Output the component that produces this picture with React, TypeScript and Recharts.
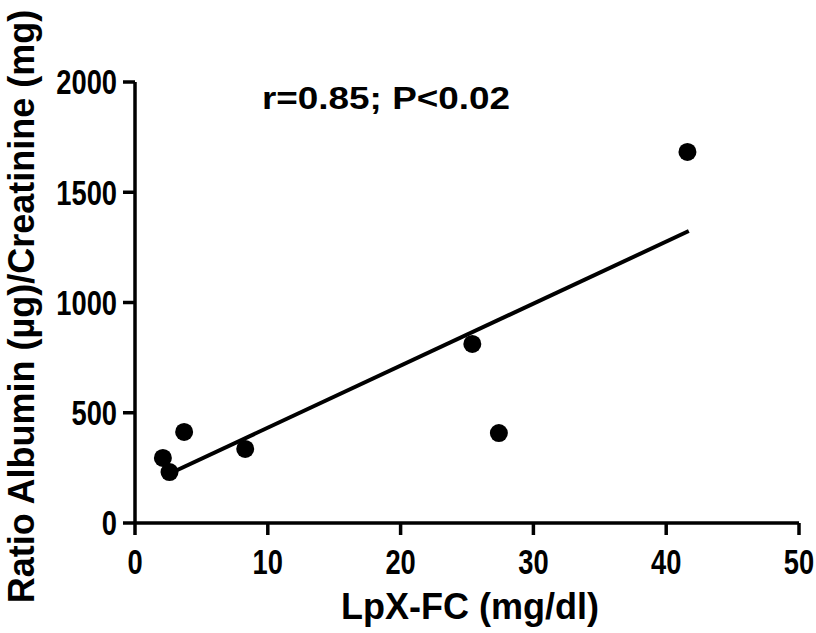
import { ScatterChart, Scatter, XAxis, YAxis, Label } from "recharts";

// LpX-FC vs albumin/creatinine ratio, one entry per patient
const lpxFc = [2.1, 2.6, 3.7, 8.3, 25.4, 27.4, 41.6];
const albuminRatio = [295, 231, 413, 336, 812, 408, 1683];

// regression line end points
const fitX = [2.1, 41.7];
const fitY = [210, 1324];

const xTicks = [0, 10, 20, 30, 40, 50];
const yTicks = [0, 500, 1000, 1500, 2000];

const xTitle = "LpX-FC (mg/dl)";
const yTitle = "Ratio Albumin (µg)/Creatinine (mg)";
const statText = "r=0.85; P<0.02";

const FONT = "'Liberation Sans', Arial, sans-serif";
const axisStroke = { stroke: "#000", strokeWidth: 3.5 };

const points = lpxFc.map((x, i) => ({ x, y: albuminRatio[i] }));
const fitLine = fitX.map((x, i) => ({ x, y: fitY[i] }));

function XTick({ x, y, payload }: any) {
  return (
    <g transform={`translate(${x},${y})`}>
      <text
        transform="scale(0.78,1)"
        textAnchor="middle"
        dy="0.71em"
        fontSize={35}
        fontWeight="bold"
        fontFamily={FONT}
        fill="#000"
      >
        {payload.value}
      </text>
    </g>
  );
}

function YTick({ x, y, payload }: any) {
  return (
    <g transform={`translate(${x},${y})`}>
      <text
        transform="scale(0.78,1)"
        textAnchor="end"
        dy="0.355em"
        fontSize={35}
        fontWeight="bold"
        fontFamily={FONT}
        fill="#000"
      >
        {payload.value}
      </text>
    </g>
  );
}

const Dot = (p: any) => <circle cx={p.cx} cy={p.cy} r={9} fill="#000" />;
const NoDot = () => <g />;

export default function App() {
  return (
    <div style={{ position: "absolute", left: 0, top: 0, background: "#fff" }}>
      <ScatterChart
        width={816}
        height={633}
        margin={{ top: 82, right: 17, bottom: 0, left: 0 }}
      >
        <XAxis
          type="number"
          dataKey="x"
          domain={[0, 50]}
          ticks={xTicks}
          height={110}
          axisLine={axisStroke}
          tickLine={axisStroke}
          tickSize={12}
          tickMargin={14}
          tick={<XTick />}
        >
          <Label
            content={(p: any) => {
              const vb = p.viewBox;
              return (
                <text
                  x={vb.x + vb.width / 2 + 3}
                  y={vb.y + vb.height - 14}
                  textAnchor="middle"
                  fontSize={36}
                  fontWeight="bold"
                  fontFamily={FONT}
                  fill="#000"
                >
                  {xTitle}
                </text>
              );
            }}
          />
        </XAxis>
        <YAxis
          type="number"
          dataKey="y"
          domain={[0, 2000]}
          ticks={yTicks}
          width={135}
          axisLine={axisStroke}
          tickLine={axisStroke}
          tickSize={12}
          tickMargin={6}
          tick={<YTick />}
        >
          <Label
            content={(p: any) => {
              const vb = p.viewBox;
              const cx = vb.x + 21;
              const cy = vb.y + vb.height / 2 + 4;
              return (
                <text
                  x={cx}
                  y={cy}
                  dy="0.355em"
                  transform={`rotate(-90 ${cx} ${cy})`}
                  textAnchor="middle"
                  fontSize={36}
                  fontWeight="bold"
                  fontFamily={FONT}
                  fill="#000"
                >
                  {yTitle}
                </text>
              );
            }}
          />
        </YAxis>
        <Scatter
          data={fitLine}
          line={{ stroke: "#000", strokeWidth: 4 }}
          shape={NoDot}
          isAnimationActive={false}
        />
        <Scatter data={points} fill="#000" shape={Dot} isAnimationActive={false} />
      </ScatterChart>
      <svg
        width={816}
        height={633}
        style={{ position: "absolute", left: 0, top: 0, pointerEvents: "none" }}
      >
        <text
          x={262}
          y={109}
          textLength={248}
          lengthAdjust="spacingAndGlyphs"
          fontSize={31}
          fontWeight="bold"
          fontFamily={FONT}
          fill="#000"
        >
          {statText}
        </text>
      </svg>
    </div>
  );
}
